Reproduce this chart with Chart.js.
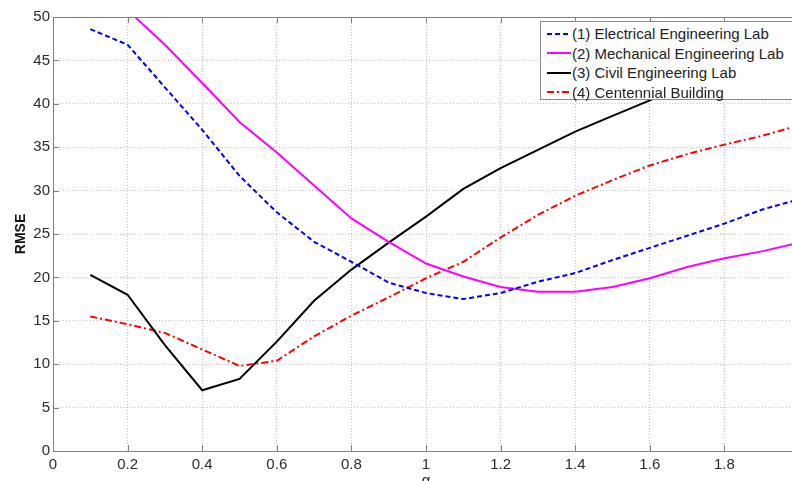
<!DOCTYPE html>
<html>
<head>
<meta charset="utf-8">
<script src="https://cdn.jsdelivr.net/npm/chart.js@4.4.1/dist/chart.umd.min.js"></script>
<style>
  html, body { margin: 0; padding: 0; overflow: hidden; background: #fff; width: 792px; height: 481px; }
  #wrap { position: relative; width: 800px; height: 495px; }
  #legend {
    position: absolute; left: 540px; top: 21px; width: 256px; height: 79px;
    background: #fff; border: 1px solid #8a8a8a; box-sizing: border-box;
    font: 15px "Liberation Sans", Arial, sans-serif; color: #222; padding-top: 2px;
  }
  #legend .row { height: 19.5px; display: flex; align-items: center; white-space: nowrap; }
  #legend svg { margin-left: 6px; margin-right: 1px; }
</style>
</head>
<body>
<div id="wrap">
  <canvas id="chart" width="800" height="495"></canvas>
  <div id="legend"></div>
</div>
<script>
// alpha values on the x axis
const alpha = [0.1, 0.2, 0.3, 0.4, 0.5, 0.6, 0.7, 0.8, 0.9, 1.0, 1.1, 1.2, 1.3, 1.4, 1.5, 1.6, 1.7, 1.8, 1.9, 2.0];

const seriesNames = ['(1) Electrical Engineering Lab', '(2) Mechanical Engineering Lab', '(3) Civil Engineering Lab', '(4) Centennial Building'];

// RMSE per alpha
const elecLab = [48.6, 46.8, 41.9, 37.0, 31.7, 27.5, 24.1, 21.8, 19.4, 18.2, 17.5, 18.2, 19.5, 20.5, 22.0, 23.4, 24.8, 26.2, 27.8, 29.0];
const mechLab = [null, 50.8, 46.8, 42.4, 37.9, 34.4, 30.6, 26.8, 24.1, 21.6, 20.1, 18.9, 18.35, 18.35, 18.9, 19.9, 21.2, 22.2, 23.0, 24.0];
const civilLab = [20.3, 18.0, 12.2, 7.0, 8.3, 12.6, 17.3, 20.9, 24.0, 27.0, 30.2, 32.6, 34.7, 36.8, 38.6, 40.4, 42.2, 44.0, 45.8, 47.6];
const centBldg = [15.5, 14.6, 13.6, 11.7, 9.8, 10.4, 13.2, 15.6, 17.7, 19.9, 21.8, 24.6, 27.2, 29.4, 31.2, 32.9, 34.2, 35.3, 36.3, 37.5];

const xTicks = [0, 0.2, 0.4, 0.6, 0.8, 1, 1.2, 1.4, 1.6, 1.8, 2];
const yTicks = [0, 5, 10, 15, 20, 25, 30, 35, 40, 45, 50];

const colors = ['#0000ff', '#ff00ff', '#000000', '#ff0000'];
const dashes = [[5, 3], [], [], [7, 3, 2, 3]];

const toPoints = (vals) => alpha.map((a, i) => ({ x: a, y: vals[i] }));

const font = { family: '"Liberation Sans", Arial, sans-serif', size: 15 };

// MATLAB style frame: top border plus inward tick marks
const framePlugin = {
  id: 'frame',
  afterDraw(chart) {
    const { ctx, chartArea: a, scales: { x, y } } = chart;
    ctx.save();
    ctx.strokeStyle = '#808080';
    ctx.lineWidth = 1;
    ctx.beginPath();
    ctx.moveTo(a.left, a.top + 0.5);
    ctx.lineTo(a.right, a.top + 0.5);
    x.ticks.forEach(t => {
      const px = Math.round(x.getPixelForValue(t.value)) + 0.5;
      ctx.moveTo(px, a.bottom); ctx.lineTo(px, a.bottom - 6);
      ctx.moveTo(px, a.top); ctx.lineTo(px, a.top + 6);
    });
    y.ticks.forEach(t => {
      const py = Math.round(y.getPixelForValue(t.value)) + 0.5;
      ctx.moveTo(a.left, py); ctx.lineTo(a.left + 6, py);
      ctx.moveTo(a.right, py); ctx.lineTo(a.right - 6, py);
    });
    ctx.stroke();
    ctx.restore();
  }
};

const chart = new Chart(document.getElementById('chart').getContext('2d'), {
  type: 'line',
  data: {
    datasets: [elecLab, mechLab, civilLab, centBldg].map((vals, i) => ({
      label: seriesNames[i],
      data: toPoints(vals),
      borderColor: colors[i],
      borderDash: dashes[i],
      borderWidth: 2,
      pointRadius: 0,
      tension: 0,
      fill: false
    }))
  },
  options: {
    responsive: false,
    animation: false,
    layout: { padding: { top: 17, right: 1, left: 0, bottom: 0 }, autoPadding: false },
    plugins: { legend: { display: false }, tooltip: { enabled: false } },
    scales: {
      x: {
        type: 'linear', min: 0, max: 2,
        afterBuildTicks: s => { s.ticks = xTicks.map(v => ({ value: v })); },
        afterFit: s => { s.height = 44; s.paddingLeft = 0; s.paddingRight = 0; },
        ticks: { font, color: '#2b2b2b', padding: 5, maxRotation: 0, autoSkip: false, callback: v => String(v) },
        grid: { color: '#c4c4c4', drawTicks: false },
        border: { color: '#808080', dash: [1, 2] },
        title: { display: true, text: 'α', font, color: '#222', padding: { top: 0, bottom: 5 } }
      },
      y: {
        min: 0, max: 50,
        afterBuildTicks: s => { s.ticks = yTicks.map(v => ({ value: v })); },
        afterFit: s => { s.width = 53; },
        ticks: { font, color: '#2b2b2b', padding: 3 },
        grid: { color: '#c4c4c4', drawTicks: false },
        border: { color: '#808080', dash: [1, 2] },
        title: { display: true, text: 'RMSE', font: { ...font, size: 14, weight: 'bold' }, color: '#111', padding: { top: 13, bottom: 0 } }
      }
    }
  },
  plugins: [framePlugin]
});

// legend drawn on top of the plot, like the original
const legend = document.getElementById('legend');
chart.data.datasets.forEach(ds => {
  const row = document.createElement('div');
  row.className = 'row';
  const dash = ds.borderDash.length ? ` stroke-dasharray="${ds.borderDash.join(',')}"` : '';
  row.innerHTML = `<svg width="24" height="10"><line x1="0" y1="5" x2="24" y2="5" stroke="${ds.borderColor}" stroke-width="2"${dash}/></svg><span>${ds.label}</span>`;
  legend.appendChild(row);
});
</script>
</body>
</html>
